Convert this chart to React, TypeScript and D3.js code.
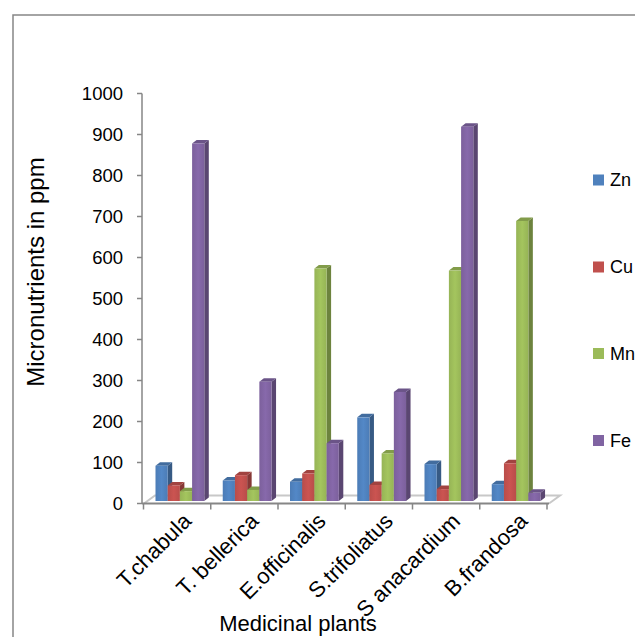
import React from "react";
import * as d3 from "d3";

const categories = ["T.chabula", "T. bellerica", "E.officinalis", "S.trifoliatus", "S anacardium", "B.frandosa"];
const seriesNames = ["Zn", "Cu", "Mn", "Fe"];
const zn = [86, 50, 47, 204, 90, 41];
const cu = [38, 63, 67, 39, 29, 92];
const mn = [24, 27, 567, 116, 562, 683];
const fe = [872, 291, 141, 266, 913, 20];
const yTicks = [0, 100, 200, 300, 400, 500, 600, 700, 800, 900, 1000];
const colors = ["#4F81BD", "#C0504D", "#9BBB59", "#8064A2"];

const W = 635;
const H = 637;
const FONT = "'Liberation Sans', Arial, sans-serif";

export default function App() {
  const series = [zn, cu, mn, fe];
  const y = d3.scaleLinear().domain([0, 1000]).range([503.5, 93.5]);
  const x = d3.scaleBand<string>().domain(categories).range([143.5, 547]).padding(0);
  const axisX = 142;
  const floorY = 503.5;
  const fdx = 11, fdy = -8;
  const barW = 12.2;
  const barOff = 12;
  const ddx = 4.5, ddy = -3.5;
  const lift = 2.5;
  const axisColor = "#868686";

  const bars: React.ReactNode[] = [];
  categories.forEach((c, i) => {
    series.forEach((vals, j) => {
      const v = vals[i];
      const x0 = (x(c) as number) + barOff + j * barW;
      const x1 = x0 + barW;
      const yb = y(0) - lift;
      const yt = y(v) - lift;
      const col = d3.color(colors[j])!;
      const side = col.darker(1.0).formatHex();
      const top = col.darker(0.5).formatHex();
      bars.push(
        <g key={`${i}-${j}`}>
          <path d={`M${x1},${yb}L${x1 + ddx},${yb + ddy}L${x1 + ddx},${yt + ddy}L${x1},${yt}Z`} fill={side} />
          <path d={`M${x0},${yt}L${x0 + ddx},${yt + ddy}L${x1 + ddx},${yt + ddy}L${x1},${yt}Z`} fill={top} />
          <rect x={x0} y={yt} width={barW} height={yb - yt} fill={`url(#grad${j})`} />
        </g>
      );
    });
  });

  const legendY = [180, 267, 353.5, 440.5];

  return (
    <svg width={W} height={H} style={{ position: "absolute", left: 0, top: 0, background: "#fff" }} fontFamily={FONT}>
      <defs>
        {colors.map((c, j) => {
          const base = d3.color(c)!;
          return (
            <linearGradient key={j} id={`grad${j}`} x1="0" x2="1" y1="0" y2="0">
              <stop offset="0" stopColor={base.darker(0.1).formatHex()} />
              <stop offset="0.5" stopColor={base.brighter(0.15).formatHex()} />
              <stop offset="1" stopColor={base.darker(0.1).formatHex()} />
            </linearGradient>
          );
        })}
      </defs>
      <rect x={13} y={15} width={W} height={H} fill="none" stroke={axisColor} strokeWidth={1.5} />

      {/* floor */}
      <path
        d={`M${axisX + 2},${floorY}L${axisX + 2 + fdx},${floorY + fdy}L${549 + fdx},${floorY + fdy}L${549},${floorY}`}
        fill="none"
        stroke="#c8c8c8"
        strokeWidth={2}
      />
      <line x1={axisX} x2={549} y1={floorY} y2={floorY} stroke={axisColor} strokeWidth={2} />
      {x.domain().concat(["end"]).map((c, i) => {
        const xx = i < categories.length ? (x(c) as number) : 547;
        return <line key={i} x1={xx} x2={xx} y1={floorY} y2={floorY + 6} stroke={axisColor} strokeWidth={1.5} />;
      })}

      {bars}

      {/* y axis */}
      <line x1={axisX} x2={axisX} y1={y(1000)} y2={floorY} stroke={axisColor} strokeWidth={1.5} />
      {yTicks.map((t) => (
        <g key={t}>
          <line x1={axisX - 5} x2={axisX} y1={y(t)} y2={y(t)} stroke={axisColor} strokeWidth={1.5} />
          <text x={123} y={y(t)} dy="0.36em" textAnchor="end" fontSize={18.5} fill="#000">
            {t}
          </text>
        </g>
      ))}

      {/* category labels */}
      {categories.map((c) => {
        const cx = (x(c) as number) + x.bandwidth() / 2;
        return (
          <text
            key={c}
            transform={`translate(${cx + 10},${517}) rotate(-45)`}
            textAnchor="end"
            dy="0.35em"
            fontSize={22}
            fill="#000"
          >
            {c}
          </text>
        );
      })}

      <text x={298} y={631} textAnchor="middle" fontSize={22} fill="#000">
        Medicinal plants
      </text>
      <text transform={`translate(44,272) rotate(-90)`} textAnchor="middle" fontSize={24} fill="#000">
        Micronutrients in ppm
      </text>

      {/* legend */}
      {seriesNames.map((s, j) => (
        <g key={s}>
          <rect x={593} y={legendY[j] - 5.5} width={11} height={11} fill={colors[j]} />
          <text x={610} y={legendY[j]} dy="0.36em" fontSize={18} fill="#000">
            {s}
          </text>
        </g>
      ))}
    </svg>
  );
}
